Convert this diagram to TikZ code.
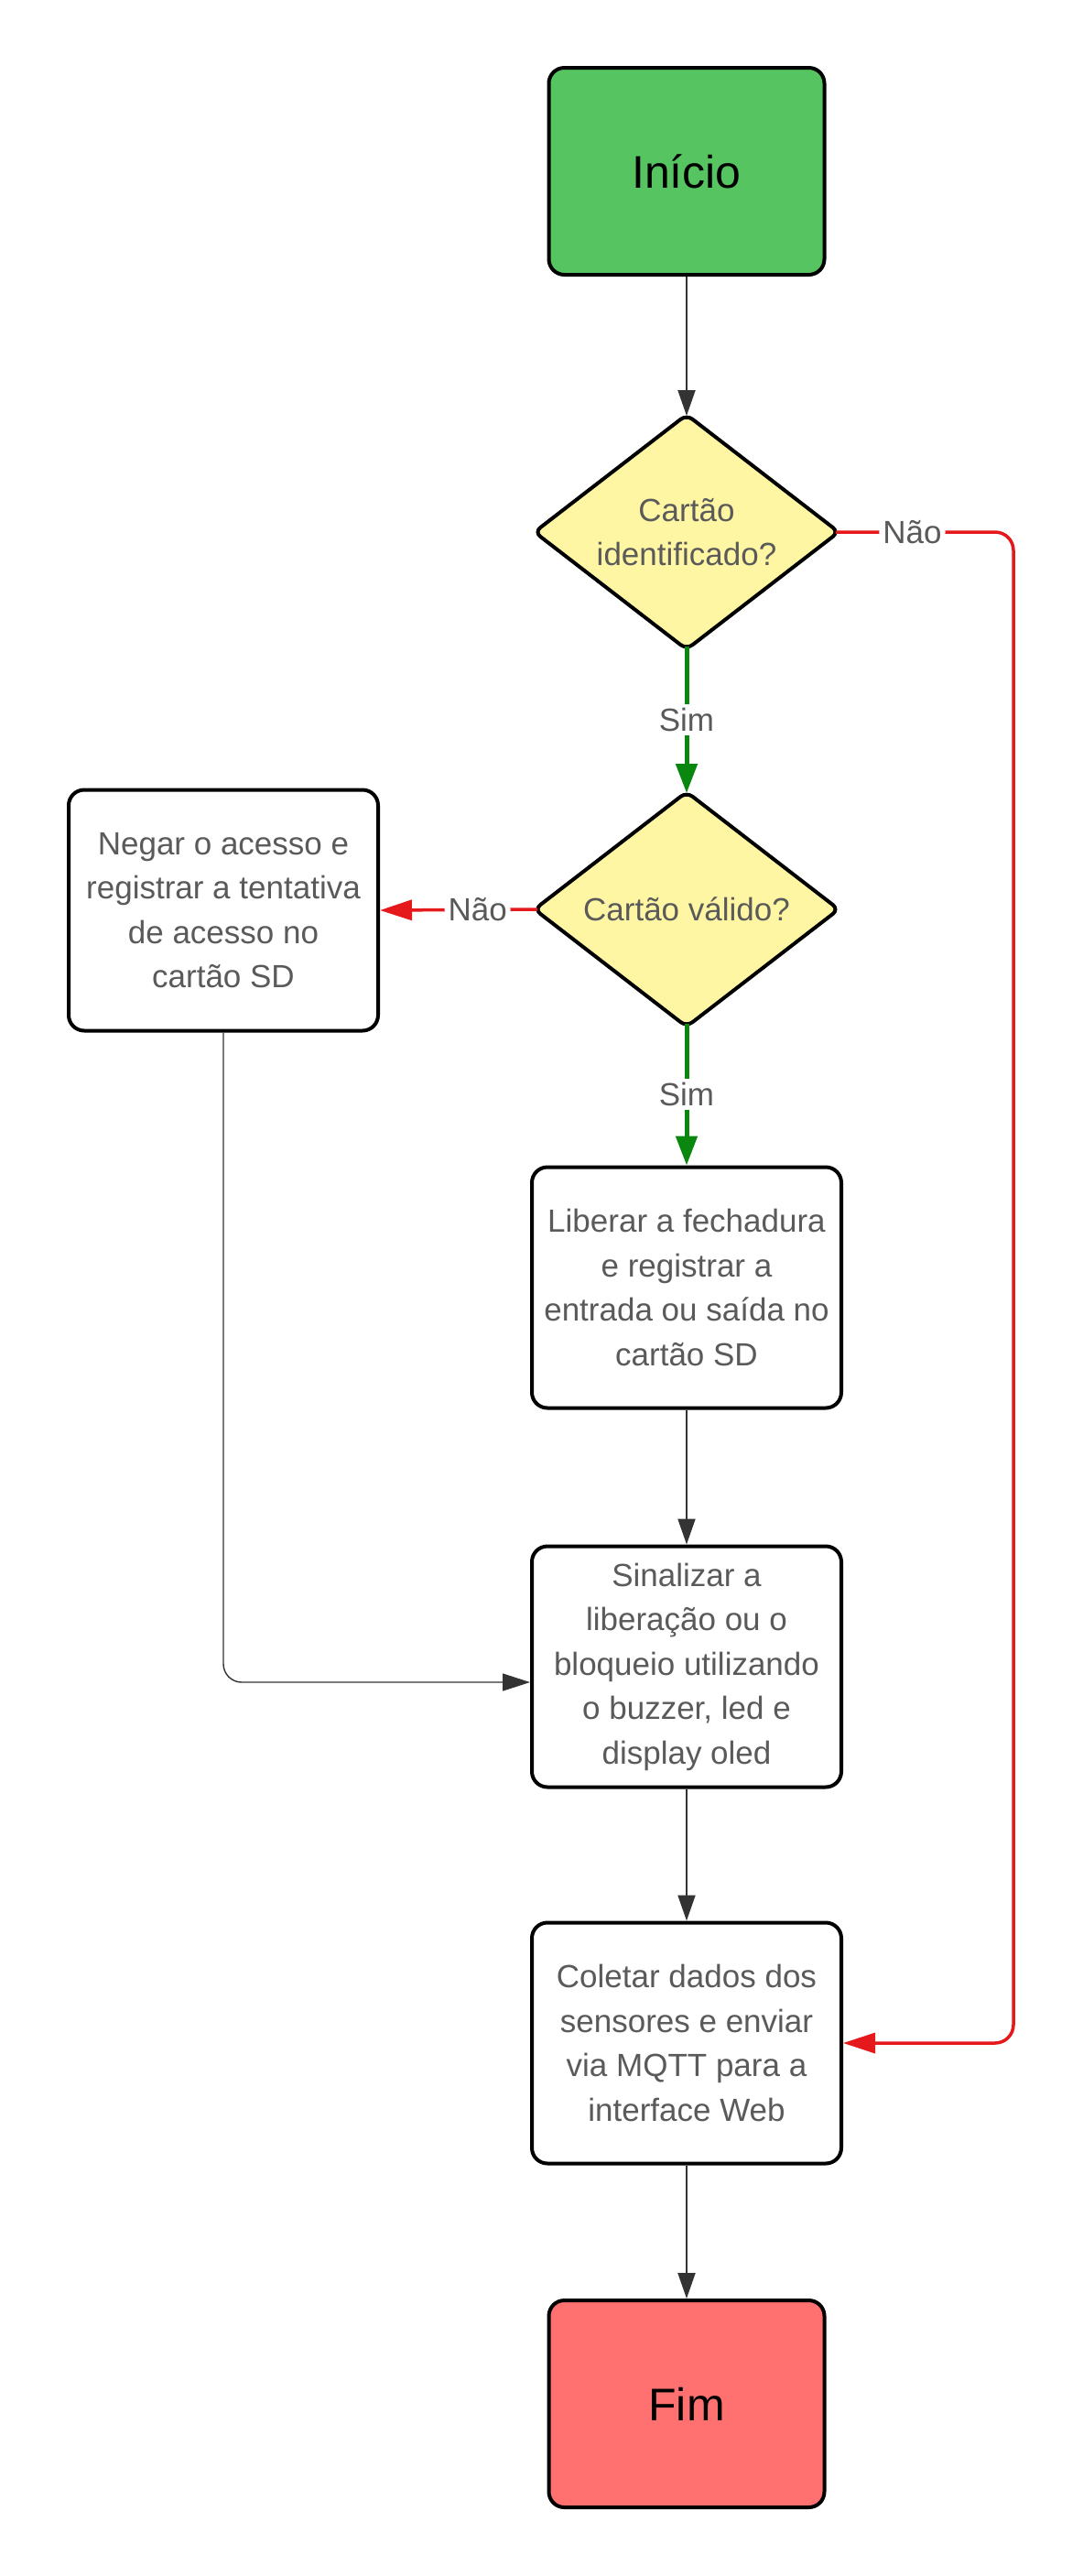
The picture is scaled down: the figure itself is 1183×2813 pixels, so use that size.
\documentclass[tikz,border=0pt]{standalone}
\usepackage{fontspec}
\setmainfont{Liberation Sans}
\usetikzlibrary{shapes.geometric,arrows.meta,calc}
\definecolor{startg}{HTML}{55C461}
\definecolor{endr}{HTML}{FF7070}
\definecolor{decy}{HTML}{FFF6A3}
\definecolor{txtg}{HTML}{5A5A5A}
\definecolor{linegrey}{HTML}{333333}
\definecolor{yesg}{HTML}{0A870F}
\definecolor{nor}{HTML}{E5181C}
\begin{document}
\begin{tikzpicture}[x=0.5pt,y=-0.5pt,
  box/.style={draw=black, line width=2pt, rounded corners=8.5pt, fill=white,
    minimum width=169pt, minimum height=131.5pt, align=center, text=txtg,
    font=\fontsize{17.5}{24.25}\selectfont, inner sep=0pt},
  term/.style={box, minimum width=150.5pt, minimum height=113pt, text=black,
    font=\fontsize{25}{30}\selectfont},
  dec/.style={diamond, draw=black, line width=2pt, rounded corners=4pt, fill=decy,
    aspect=1.28, minimum width=167pt, minimum height=129pt, inner sep=0pt,
    align=center, text=txtg, font=\fontsize{17.5}{24.25}\selectfont},
  flow/.style={draw=linegrey, line width=1pt, -{Triangle[length=14pt,width=9.5pt]}},
  thinflow/.style={draw=linegrey, line width=0.7pt, rounded corners=10pt, -{Triangle[length=15pt,width=9.5pt]}},
  yes/.style={draw=yesg, line width=2.5pt, -{Triangle[length=16pt,width=11.5pt]}},
  no/.style={draw=nor, line width=1.75pt, rounded corners=10pt, -{Triangle[length=17.5pt,width=11pt]}},
  lbl/.style={fill=white, text=txtg, font=\fontsize{17.5}{21}\selectfont, inner sep=2pt}
]
\fill[white] (0,0) rectangle (1183,2813);
\useasboundingbox (0,0) rectangle (1183,2813);

\node[term, fill=startg] (start) at (750,187) {Início};
\node[dec] (d1) at (750,581) {Cartão\\identificado?};
\node[dec] (d2) at (750,993) {Cartão válido?};
\node[box] (neg) at (244,994) {Negar o acesso e\\registrar a tentativa\\de acesso no\\cartão SD};
\node[box] (lib) at (750,1406) {Liberar a fechadura\\e registrar a\\entrada ou saída no\\cartão SD};
\node[box] (sin) at (750,1820) {Sinalizar a\\liberação ou o\\bloqueio utilizando\\o buzzer, led e\\display oled};
\node[box] (col) at (750,2231) {Coletar dados dos\\sensores e enviar\\via MQTT para a\\interface Web};
\node[term, fill=endr] (fim) at (750,2625) {Fim};
\coordinate (rx) at (1107,0);

\draw[flow] (start) -- ([yshift=-2pt]d1.north);
\draw[yes] ([yshift=3pt]d1.south) -- node[lbl]{Sim} ([yshift=-2pt]d2.north);
\draw[no] ([xshift=-3pt]d1.east) -- node[lbl,pos=0.43]{Não} (d1.east -| rx) |- (col.east);
\draw[no] ([xshift=3pt]d2.west) -- node[lbl,pos=0.38]{Não} (neg.east);
\draw[yes] ([yshift=3pt]d2.south) -- node[lbl]{Sim} (lib.north);
\draw[flow] (lib) -- (sin);
\draw[thinflow] (neg.south) |- ($(sin.west)+(0,17)$);
\draw[flow] (sin) -- (col);
\draw[flow] (col) -- (fim);
\end{tikzpicture}
\end{document}
